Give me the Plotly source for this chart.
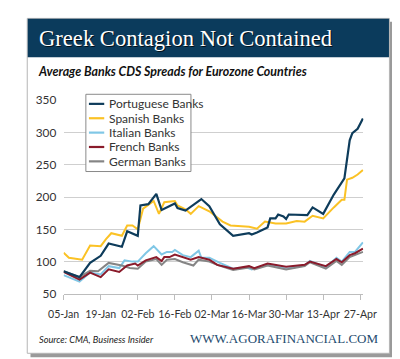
import pandas as pd
import plotly.graph_objects as go

# ---- data (day offsets from 05-Jan-2010, CDS spreads in bp) ----
start_date = "2010-01-05"
series_names = ["Portuguese Banks", "Spanish Banks", "Italian Banks", "French Banks", "German Banks"]

por_days = [0,6,10,14,17,22,24,28,29,32,35,37,42,43,46,52,55,59,64,70,71,73,77,78,80,81,83,84,85,92,94,98,102,106,108,109,111,113]
por_vals = [85,76,98,109,128,123,147,140,187,189,205,180,190,183,179,197,186,158,140,144,142,145,153,167,167,173,170,166,173,172,184,174,204,229,288,299,306,322]

spa_days = [0,2,7,10,14,16,18,22,24,26,28,30,34,36,38,42,43,46,48,51,55,60,63,70,73,76,80,84,88,91,94,98,102,105,106,107,109,111,113]
spa_vals = [114,106,103,125,124,135,144,140,156,156,150,182,194,174,192,194,187,181,174,186,178,162,156,154,151,162,159,159,163,162,171,167,184,196,196,227,230,235,242]

ita_days = [0,6,10,14,17,21,23,26,28,31,34,37,39,41,42,45,48,51,52,55,59,64,69,71,77,84,91,93,99,103,105,108,110,113]
ita_vals = [79,69,83,80,93,90,102,100,100,113,124,111,115,115,118,110,107,117,106,106,98,89,91,88,96,89,94,101,91,106,100,115,115,130]

fre_days = [0,6,10,14,17,21,24,27,28,31,35,37,38,40,42,46,48,51,55,58,64,70,72,77,84,91,93,99,103,105,108,110,113]
fre_vals = [84,72,83,76,88,84,94,97,94,102,107,101,107,107,111,105,103,107,103,95,89,93,90,97,92,95,100,93,104,99,110,113,120]

ger_days = [0,6,10,13,17,22,25,28,31,35,37,39,42,45,49,51,55,58,64,70,72,77,84,91,93,99,103,105,108,110,113]
ger_vals = [85,76,86,85,98,94,90,89,100,104,95,103,104,99,94,103,100,95,87,91,88,94,88,93,99,89,101,95,107,110,115]

tick_days = [0,14,28,42,56,70,84,98,112]
tick_labels = ["05-Jan","19-Jan","02-Feb","16-Feb","02-Mar","16-Mar","30-Mar","13-Apr","27-Apr"]

# ---- styling ----
W, H = 400, 359
colors = {"Portuguese Banks": "#0e3c5b", "Spanish Banks": "#fbc225",
          "Italian Banks": "#80c7e6", "French Banks": "#8a1b2b", "German Banks": "#858585"}
SANS = "Lato, 'Noto Sans', sans-serif"
SERIF = "'Liberation Serif', 'DejaVu Serif', serif"

def to_dates(days):
    return pd.Timestamp(start_date) + pd.to_timedelta(days, unit="D")

def px(x):
    return x / W

def py(y):
    return 1 - y / H

data_map = {
    "Portuguese Banks": (por_days, por_vals),
    "Spanish Banks": (spa_days, spa_vals),
    "Italian Banks": (ita_days, ita_vals),
    "French Banks": (fre_days, fre_vals),
    "German Banks": (ger_days, ger_vals),
}

fig = go.Figure()
for name in ["Italian Banks", "German Banks", "French Banks", "Spanish Banks", "Portuguese Banks"]:
    d, v = data_map[name]
    fig.add_trace(go.Scatter(x=to_dates(d), y=v, mode="lines", name=name,
                             line=dict(color=colors[name], width=2.2 if name == "Portuguese Banks" else 2),
                             showlegend=False))

shapes = []
annotations = []
# card shadow + card
shapes.append(dict(type="rect", xref="paper", yref="paper", x0=px(7), x1=px(398), y0=py(356), y1=py(6),
                   fillcolor="#9a9a9a", line=dict(width=0), layer="below"))
shapes.append(dict(type="rect", xref="paper", yref="paper", x0=px(3.5), x1=px(394), y0=py(352), y1=py(2.5),
                   fillcolor="white", line=dict(color="#b5b5b5", width=1), layer="below"))
# banner
shapes.append(dict(type="rect", xref="paper", yref="paper", x0=px(4), x1=px(393.5), y0=py(43), y1=py(3),
                   fillcolor="#0b3b5c", line=dict(width=0), layer="below"))

# title with shadow
title = "Greek Contagion Not Contained"
annotations.append(dict(text=title, x=px(15.5), y=py(24.5), xref="paper", yref="paper", xanchor="left",
                        yanchor="middle", showarrow=False, font=dict(family=SERIF, size=22.6, color="rgba(0,0,0,0.75)")))
annotations.append(dict(text=title, x=px(14), y=py(23), xref="paper", yref="paper", xanchor="left",
                        yanchor="middle", showarrow=False, font=dict(family=SERIF, size=22.6, color="white")))
# subtitle
annotations.append(dict(text="<b><i>Average Banks CDS Spreads for Eurozone Countries</i></b>", x=px(12.5), y=py(58),
                        xref="paper", yref="paper", xanchor="left", yanchor="middle", showarrow=False,
                        font=dict(family=SANS, size=12.4, color="#111111")))
# footer
annotations.append(dict(text="<i>Source: CMA, Business Insider</i>", x=px(13.5), y=py(338), xref="paper", yref="paper",
                        xanchor="left", yanchor="middle", showarrow=False,
                        font=dict(family=SANS, size=9.2, color="#222222")))
annotations.append(dict(text="WWW.AGORAFINANCIAL.COM", x=px(384), y=py(336.5), xref="paper", yref="paper",
                        xanchor="right", yanchor="middle", showarrow=False,
                        font=dict(family=SERIF, size=13, color="#1e4b6e")))

# legend box (manual, compact like original)
shapes.append(dict(type="rect", xref="paper", yref="paper", x0=px(66.7), x1=px(180), y0=py(162.3), y1=py(81.7),
                   fillcolor="white", line=dict(color="#8a8a8a", width=1), layer="above"))
for i, name in enumerate(series_names):
    yy = 91.7 + 15 * i
    shapes.append(dict(type="line", xref="paper", yref="paper", x0=px(70), x1=px(86.5), y0=py(yy), y1=py(yy),
                       line=dict(color=colors[name], width=2.2), layer="above"))
    annotations.append(dict(text=name, x=px(89), y=py(yy), xref="paper", yref="paper", xanchor="left",
                            yanchor="middle", showarrow=False, font=dict(family=SANS, size=12, color="#333333")))

x_end = pd.Timestamp(start_date) + pd.Timedelta(days=113.2)
fig.update_layout(
    width=W, height=H, autosize=False,
    margin=dict(l=0, r=0, t=0, b=0),
    paper_bgcolor="white", plot_bgcolor="rgba(0,0,0,0)",
    shapes=shapes, annotations=annotations,
    xaxis=dict(domain=[px(42.7), px(366)], type="date",
               range=[pd.Timestamp(start_date), x_end],
               tickmode="array", tickvals=to_dates(tick_days), ticktext=tick_labels, tickangle=0,
               showgrid=False, zeroline=False, showline=True, linecolor="#bdbdbd", linewidth=1,
               ticks="outside", ticklen=5, tickcolor="#bdbdbd", ticklabelstandoff=5,
               tickfont=dict(family=SANS, size=10.6, color="#333333")),
    yaxis=dict(domain=[py(290), py(88)], range=[50, 350], dtick=50, tick0=50,
               showgrid=True, gridcolor="#cfcfcf", gridwidth=1, zeroline=False, showline=False,
               ticks="outside", ticklen=4, tickcolor="rgba(0,0,0,0)",
               tickfont=dict(family=SANS, size=11.8, color="#333333")),
)

fig.write_html("out.html")
